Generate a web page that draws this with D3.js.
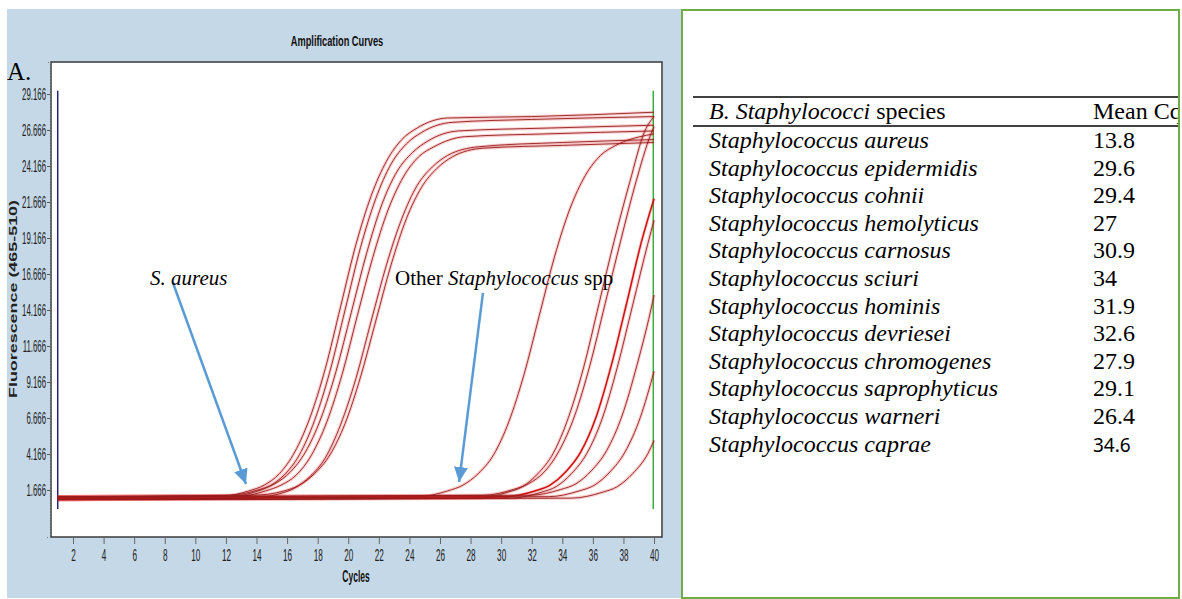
<!DOCTYPE html>
<html><head><meta charset="utf-8">
<script src="https://cdn.jsdelivr.net/npm/d3@7"></script>
<style>html,body{margin:0;padding:0;background:#fff;} svg{display:block;}</style>
</head><body>
<svg id="chart" width="1182" height="599"></svg>
<script>
// ---------- data ----------
const cycleTicks = [2,4,6,8,10,12,14,16,18,20,22,24,26,28,30,32,34,36,38,40];
const fluorTicks = [1.666,4.166,6.666,9.166,11.666,14.166,16.666,19.166,21.666,24.166,26.666,29.166];
const fluorLabels = ["1.666","4.166","6.666","9.166","11.666","14.166","16.666","19.166","21.666","24.166","26.666","29.166"];

// S. aureus amplification curves: [cycle, fluorescence]
const aureusCurves = [
 [[1,1.1],[11.5,1.2],[13.5,1.6],[14.5,2.0],[15.5,2.8],[16.5,4.3],[17.5,6.7],[18.5,10.1],[19.5,14.4],[20.5,18.7],[21.5,22.1],[22.5,24.5],[23.5,26.0],[24.5,26.8],[26.5,27.5],[32,27.6],[40,27.9]],
 [[1,1.0],[11.8,1.1],[13.8,1.5],[14.8,1.9],[15.8,2.7],[16.8,4.1],[17.8,6.5],[18.8,9.9],[19.8,14.2],[20.8,18.5],[21.8,21.9],[22.8,24.3],[23.8,25.7],[24.8,26.5],[26.8,27.2],[32,27.4],[40,27.6]],
 [[1,1.2],[12.2,1.3],[14.2,1.7],[15.2,2.1],[16.2,2.9],[17.2,4.3],[18.2,6.6],[19.2,9.9],[20.2,14.0],[21.2,18.1],[22.2,21.5],[23.2,23.8],[24.2,25.1],[25.2,25.9],[27.2,26.6],[33,26.8],[40,27.0]],
 [[1,1.1],[12.6,1.2],[14.6,1.6],[15.6,2.0],[16.6,2.7],[17.6,4.1],[18.6,6.4],[19.6,9.7],[20.6,13.8],[21.6,17.8],[22.6,21.1],[23.6,23.4],[24.6,24.8],[25.6,25.5],[27.6,26.2],[33,26.4],[40,26.6]],
 [[1,1.0],[13.5,1.1],[15.5,1.4],[16.5,1.8],[17.5,2.6],[18.5,3.9],[19.5,6.2],[20.5,9.4],[21.5,13.4],[22.5,17.3],[23.5,20.5],[24.5,22.8],[25.5,24.1],[26.5,24.9],[28.5,25.5],[34,25.8],[40,26.0]],
 [[1,1.2],[13.8,1.3],[15.8,1.6],[16.8,2.0],[17.8,2.8],[18.8,4.1],[19.8,6.3],[20.8,9.5],[21.8,13.4],[22.8,17.3],[23.8,20.5],[24.8,22.7],[25.8,24.0],[26.8,24.8],[28.8,25.4],[34,25.6],[40,25.8]]
];
// Other Staphylococcus spp curves
const otherCurves = [
 [[1,1.1],[24.5,1.2],[26.5,1.6],[27.5,2.0],[28.5,2.8],[29.5,4.1],[30.5,6.4],[31.5,9.7],[32.5,13.8],[33.5,17.9],[34.5,21.2],[35.5,23.5],[36.5,24.9],[37.5,25.6],[39.5,26.3],[40,26.4]],
 [[1,1.0],[28.4,1.1],[30.4,1.5],[31.4,1.9],[32.4,2.8],[33.4,4.2],[34.4,6.7],[35.4,10.2],[36.4,14.6],[37.4,19.0],[38.4,23.0],[39.4,26.6],[40,27.6]],
 [[1,1.2],[28.8,1.3],[30.8,1.7],[31.8,2.1],[32.8,2.9],[33.8,4.4],[34.8,6.8],[35.8,10.3],[36.8,14.6],[37.8,18.9],[38.8,23.0],[39.8,26.4],[40,26.9]],
 [[1,1.1],[30.2,1.2],[32.2,1.6],[33.2,2.0],[34.2,2.9],[35.2,4.3],[36.2,6.7],[37.2,10.3],[38.2,14.6],[39.2,19.0],[40,21.9]],
 [[1,1.0],[30.6,1.1],[32.6,1.5],[33.6,1.9],[34.6,2.8],[35.6,4.2],[36.6,6.6],[37.6,10.2],[38.6,14.5],[39.6,18.8],[40,20.4]],
 [[1,1.2],[31.9,1.3],[33.9,1.7],[34.9,2.1],[35.9,3.0],[36.9,4.4],[37.9,6.8],[38.9,10.4],[39.9,14.7],[40,15.2]],
 [[1,1.1],[33.1,1.2],[35.1,1.6],[36.1,2.0],[37.1,2.9],[38.1,4.3],[39.1,6.7],[40,9.9]],
 [[1,1.0],[34.6,1.1],[36.6,1.5],[37.6,1.9],[38.6,2.8],[39.6,4.2],[40,5.1]]
];
const boldCurveIndex = 3; // the brighter red "other" curve

// run markers (start / end cycle) in data units
const runStartCycle = 1, runEndCycle = 39.95, markerTop = 29.4, markerBottom = 0.35;

// annotations in data units
const annoAureus = {text:"S. aureus", c:7.04, v:15.9, from:[8.54,16.04], to:[13.31,2.08]};
const annoOther = {c:23.06, v:15.9, from:[28.81,15.35], to:[27.25,2.22]};

// table
const tableTitleItalic = "B. Staphylococci";
const tableTitleRest = " species";
const tableValueHeader = "Mean Cq";
const species = ["Staphylococcus aureus","Staphylococcus epidermidis","Staphylococcus cohnii","Staphylococcus hemolyticus","Staphylococcus carnosus","Staphylococcus sciuri","Staphylococcus hominis","Staphylococcus devriesei","Staphylococcus chromogenes","Staphylococcus saprophyticus","Staphylococcus warneri","Staphylococcus caprae"];
const meanCq = ["13.8","29.6","29.4","27","30.9","34","31.9","32.6","27.9","29.1","26.4","34.6"];

// ---------- drawing ----------
const svg = d3.select("#chart");
const plot = {left:51, right:662, top:62, bottom:537};
const x = d3.scaleLinear().domain([0.56, 40.52]).range([plot.left, plot.right]);
const y = d3.scaleLinear().domain([-1.6, 31.39]).range([plot.bottom, plot.top]);

function squeeze(sel, k){
  sel.each(function(){
    const w = this.getComputedTextLength();
    this.setAttribute("textLength", w*k);
    this.setAttribute("lengthAdjust","spacingAndGlyphs");
  });
}

// left panel background
svg.append("rect").attr("x",7).attr("y",9).attr("width",675).attr("height",589).attr("fill","#c5d8e7");

// title
const title = svg.append("text").attr("x",337).attr("y",46).attr("text-anchor","middle")
  .attr("font-family","Liberation Sans, Arial, sans-serif").attr("font-weight","bold").attr("font-size",14)
  .attr("fill","#111").text("Amplification Curves");
squeeze(title, 0.66);

// plot area
svg.append("rect").attr("x",plot.left).attr("y",plot.top).attr("width",plot.right-plot.left).attr("height",plot.bottom-plot.top)
  .attr("fill","#ffffff").attr("stroke","#3a3a3a").attr("stroke-width",1.5);

svg.append("defs").append("clipPath").attr("id","plotClip").append("rect")
  .attr("x",plot.left+1).attr("y",plot.top+1).attr("width",plot.right-plot.left-2).attr("height",plot.bottom-plot.top-2);

// y axis
const yAxis = d3.axisLeft(y).tickValues(fluorTicks).tickFormat((d,i)=>fluorLabels[i]).tickSize(3).tickPadding(1);
const gy = svg.append("g").attr("transform",`translate(${plot.left-1},0)`).call(yAxis);
gy.select(".domain").attr("stroke","#777").attr("stroke-dasharray","1,2");
gy.selectAll(".tick line").attr("stroke","#555");
gy.selectAll(".tick text").attr("font-family","Liberation Sans, Arial, sans-serif").attr("font-size",17).attr("fill","#222");
squeeze(gy.selectAll(".tick text"), 0.46);

// x axis
const xAxis = d3.axisBottom(x).tickValues(cycleTicks).tickSize(7).tickPadding(5);
const gx = svg.append("g").attr("transform",`translate(0,${plot.bottom})`).call(xAxis);
gx.select(".domain").remove();
gx.selectAll(".tick line").attr("stroke","#666");
gx.selectAll(".tick text").attr("font-family","Liberation Sans, Arial, sans-serif").attr("font-size",17).attr("fill","#222");
squeeze(gx.selectAll(".tick text"), 0.48);

// axis titles
const xt = svg.append("text").attr("x",356).attr("y",582).attr("text-anchor","middle")
  .attr("font-family","Liberation Sans, Arial, sans-serif").attr("font-weight","bold").attr("font-size",17)
  .attr("fill","#111").text("Cycles");
squeeze(xt, 0.5);
svg.append("text").attr("transform","translate(17,299) rotate(-90)").attr("text-anchor","middle")
  .attr("font-family","Liberation Sans, Arial, sans-serif").attr("font-weight","bold").attr("font-size",11)
  .attr("fill","#222").attr("textLength",198).attr("lengthAdjust","spacingAndGlyphs").text("Fluorescence (465-510)");

// "A."
svg.append("text").attr("x",7).attr("y",80).attr("font-family","Liberation Serif, Times New Roman, serif")
  .attr("font-size",25).attr("fill","#000").text("A.");

// run markers
const gm = svg.append("g");
gm.append("line").attr("x1",x(runStartCycle)).attr("x2",x(runStartCycle)).attr("y1",y(markerTop)).attr("y2",y(markerBottom))
  .attr("stroke","#26267e").attr("stroke-width",1.5);

// curves
const line = d3.line().x(d=>x(d[0])).y(d=>y(d[1])).curve(d3.curveMonotoneX);
const allCurves = aureusCurves.concat(otherCurves);
const gc = svg.append("g").attr("clip-path","url(#plotClip)");
gc.selectAll("path.halo").data(allCurves).join("path").attr("class","halo")
  .attr("d",line).attr("fill","none").attr("stroke","#e01818").attr("stroke-width",3.2).attr("stroke-opacity",0.22);
gc.selectAll("path.core").data(allCurves).join("path").attr("class","core")
  .attr("d",line).attr("fill","none")
  .attr("stroke",(d,i)=> i===aureusCurves.length+boldCurveIndex ? "#d01010" : "#941e1e")
  .attr("stroke-width",(d,i)=> i===aureusCurves.length+boldCurveIndex ? 1.5 : 0.9);

gm.append("line").attr("x1",x(runEndCycle)).attr("x2",x(runEndCycle)).attr("y1",y(markerTop)).attr("y2",y(markerBottom))
  .attr("stroke","#3dab3d").attr("stroke-width",1.5);

// arrows
const defs = svg.select("defs");
defs.append("marker").attr("id","arrowHead").attr("markerUnits","userSpaceOnUse")
  .attr("markerWidth",16).attr("markerHeight",16).attr("refX",15).attr("refY",7).attr("orient","auto")
  .append("path").attr("d","M0,0 L15,7 L0,14 Z").attr("fill","#5b9bd5");
[annoAureus, annoOther].forEach(a=>{
  svg.append("line").attr("x1",x(a.from[0])).attr("y1",y(a.from[1])).attr("x2",x(a.to[0])).attr("y2",y(a.to[1]))
    .attr("stroke","#5b9bd5").attr("stroke-width",2.5).attr("marker-end","url(#arrowHead)");
});

// annotation texts
svg.append("text").attr("x",x(annoAureus.c)).attr("y",y(annoAureus.v))
  .attr("font-family","Liberation Serif, Times New Roman, serif").attr("font-size",21).attr("font-style","italic")
  .attr("fill","#000").text(annoAureus.text);
const ot = svg.append("text").attr("x",x(annoOther.c)).attr("y",y(annoOther.v))
  .attr("font-family","Liberation Serif, Times New Roman, serif").attr("font-size",21).attr("fill","#000");
ot.append("tspan").text("Other ");
ot.append("tspan").attr("font-style","italic").text("Staphylococcus");
ot.append("tspan").text(" spp");

// ---------- table ----------
const tb = {x:682, y:10, w:497, h:588};
defs.append("clipPath").attr("id","tableClip").append("rect").attr("x",tb.x).attr("y",tb.y).attr("width",tb.w).attr("height",tb.h);
const gt = svg.append("g").attr("clip-path","url(#tableClip)");
gt.append("rect").attr("x",tb.x).attr("y",tb.y).attr("width",tb.w).attr("height",tb.h).attr("fill","#fff");
gt.append("line").attr("x1",693).attr("x2",1182).attr("y1",97).attr("y2",97).attr("stroke","#000").attr("stroke-width",1.6);
gt.append("line").attr("x1",693).attr("x2",1182).attr("y1",126).attr("y2",126).attr("stroke","#000").attr("stroke-width",1.6);
const serif = "Liberation Serif, Times New Roman, serif";
const ht = gt.append("text").attr("x",709).attr("y",119).attr("font-family",serif).attr("font-size",24).attr("fill","#000");
ht.append("tspan").attr("font-style","italic").text(tableTitleItalic);
ht.append("tspan").text(tableTitleRest);
gt.append("text").attr("x",1093).attr("y",119).attr("font-family",serif).attr("font-size",24).attr("fill","#000").text(tableValueHeader);

const rowY = d3.scalePoint().domain(species).range([148, 451.7]);
gt.selectAll("text.sp").data(species).join("text").attr("class","sp")
  .attr("x",709).attr("y",d=>rowY(d)).attr("font-family",serif).attr("font-style","italic").attr("font-size",24)
  .attr("fill","#000").text(d=>d);
gt.selectAll("text.val").data(meanCq).join("text").attr("class","val")
  .attr("x",1093).attr("y",(d,i)=>rowY(species[i]))
  .attr("font-family",(d,i)=> i===meanCq.length-1 ? "Noto Sans, DejaVu Sans, sans-serif" : serif)
  .attr("font-size",(d,i)=> i===meanCq.length-1 ? 19 : 24)
  .attr("fill","#000").text(d=>d);

svg.append("rect").attr("x",tb.x).attr("y",tb.y).attr("width",tb.w).attr("height",tb.h)
  .attr("fill","none").attr("stroke","#70ad47").attr("stroke-width",2);
</script>
</body></html>
